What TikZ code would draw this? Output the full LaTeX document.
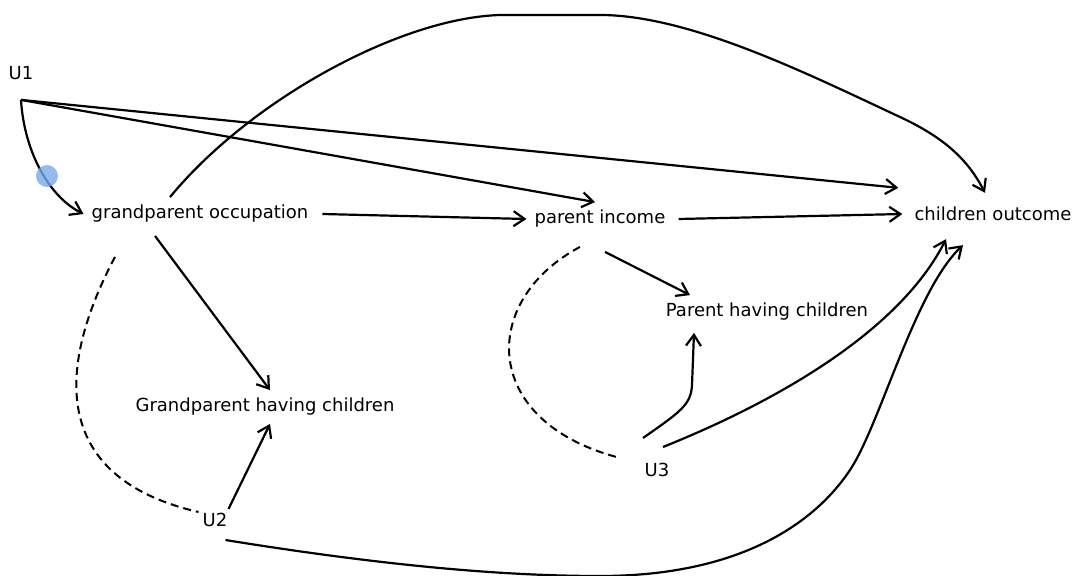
\documentclass[tikz,border=0pt]{standalone}
\usepackage{fontspec}
\setmainfont{DejaVu Sans}
\usetikzlibrary{arrows.meta}

\definecolor{handleblue}{RGB}{120,170,235}

\begin{document}
\begin{tikzpicture}[x=1pt,y=-1pt,
        var/.style={inner sep=8pt,font=\fontsize{18}{22}\selectfont},
        causal/.style={line width=2.2pt,-{Straight Barb[length=11pt,width=15pt]}},
        latent/.style={line width=2pt,dash pattern=on 8pt off 5pt}]
    \useasboundingbox (0,0) rectangle (1075,575);
    % variables
    \node[var] (u1) at (21,73) {U1};
    \node[var] (gpocc) at (200,214) {grandparent occupation};
    \node[var] (pinc) at (600,219) {parent income};
    \node[var] (chout) at (993,214) {children outcome};
    \node[var] (phave) at (767,312) {Parent having children};
    \node[var] (gphave) at (265,407) {Grandparent having children};
    \node[var] (u2) at (215,520) {U2};
    \node[var] (u3) at (657,470) {U3};
    \coordinate (u1o) at ([yshift=-12pt]u1.south);
    % arrows from U1
    \draw[causal] (u1o) .. controls (24,150) and (48,196) .. (gpocc.west);
    \draw[causal] (u1o) -- ([xshift=-5pt]pinc.north);
    \draw[causal] (u1o) -- ([xshift=-8pt,yshift=11pt]chout.north west);
    % main chain
    \draw[causal] ([xshift=6pt]gpocc.east) -- (pinc.west);
    \draw[causal] ([xshift=5pt]pinc.east) -- ([xshift=-4pt]chout.west);
    \draw[causal] ([xshift=-30pt]gpocc.north) .. controls (250,100) and (400,18) .. (500,15)
        -- (600,15) .. controls (690,15) and (810,75) .. (900,117)
        .. controls (945,138) and (968,160) .. ([xshift=-8pt,yshift=6pt]chout.north);
    \draw[causal] ([xshift=-45pt,yshift=-5pt]gpocc.south) -- ([xshift=5pt]gphave.north);
    \draw[causal] ([xshift=5pt,yshift=-16pt]pinc.south) -- ([xshift=-77pt]phave.north);
    % U2
    \draw[causal] ([xshift=-7pt,yshift=-4pt]u2.north east) -- ([xshift=5pt]gphave.south);
    \draw[causal] ([xshift=-10pt,yshift=-5pt]u2.south east) .. controls (380,565) and (500,576) .. (600,576)
        .. controls (730,576) and (810,530) .. (850,470)
        .. controls (880,425) and (915,290) .. ([xshift=-30pt,yshift=-16pt]chout.south);
    \draw[latent] ([xshift=-85pt,yshift=-26pt]gpocc.south) .. controls (50,380) and (60,480) .. ([xshift=4pt,yshift=8pt]u2.west);
    % U3
    \draw[causal] ([xshift=-14pt,yshift=17pt]u3.north) .. controls (680,412) and (691,405) .. (692,385)
        -- ([xshift=-73pt,yshift=-4pt]phave.south);
    \draw[causal] ([xshift=6pt,yshift=8pt]u3.north) .. controls (780,400) and (900,330) .. ([xshift=-47pt,yshift=-10pt]chout.south);
    \draw[latent] ([xshift=-20pt,yshift=-11pt]pinc.south) .. controls (480,300) and (480,420) .. ([xshift=-20pt,yshift=13pt]u3.west);
    % selection handle
    \fill[handleblue,opacity=0.8] (47,176) circle (11pt);
\end{tikzpicture}
\end{document}
